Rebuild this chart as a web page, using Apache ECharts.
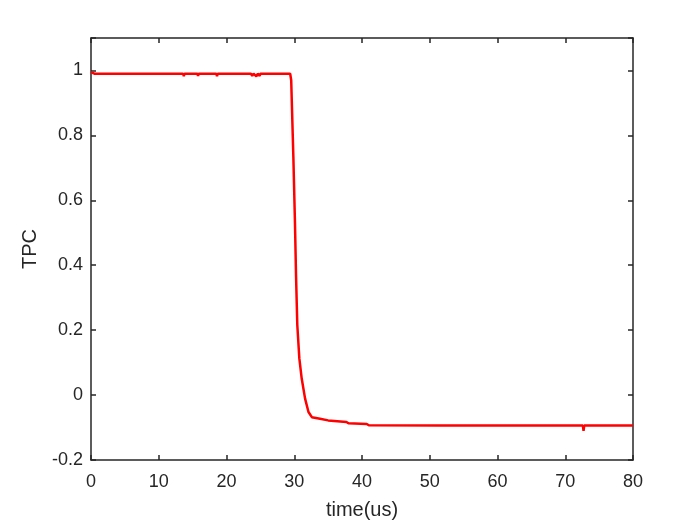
<!DOCTYPE html>
<html>
<head>
<meta charset="utf-8">
<script src="https://cdn.jsdelivr.net/npm/echarts@6/dist/echarts.min.js"></script>
<style>
  html, body { margin: 0; padding: 0; background: #fff; }
  #main { width: 700px; height: 525px; }
</style>
</head>
<body>
<div id="main"></div>
<script>
// time axis (us) and the TPC trace
var timeUs = [0, 0.5, 13.6, 13.7, 13.8, 15.7, 15.8, 15.9, 18.5, 18.6, 18.7,
    23.6, 23.8, 24.0, 24.4, 24.6, 24.9, 25.0, 29.4, 29.55, 29.87, 30.11,
    30.26, 30.45, 30.75, 31.1, 31.6, 32.1, 32.6, 33.8, 35, 37.7, 38.0,
    40.7, 41.0, 51.6, 51.7, 51.8, 70.4, 70.5, 70.6, 72.6, 72.7, 72.8, 80];
var tpc = [0.995, 0.99, 0.99, 0.982, 0.99, 0.99, 0.983, 0.99, 0.99, 0.982, 0.99,
    0.99, 0.983, 0.99, 0.982, 0.99, 0.983, 0.99, 0.99, 0.97, 0.733, 0.526,
    0.371, 0.216, 0.113, 0.051, -0.011, -0.052, -0.068, -0.073, -0.078, -0.083, -0.087,
    -0.089, -0.093, -0.094, -0.088, -0.094, -0.094, -0.089, -0.094, -0.094, -0.110, -0.094, -0.094];
var xTicks = [0, 10, 20, 30, 40, 50, 60, 70, 80];
var yTicks = [-0.2, 0, 0.2, 0.4, 0.6, 0.8, 1];

var chart = echarts.init(document.getElementById('main'));

var axisColor = '#262626';
var font = 'Liberation Sans, Arial, sans-serif';

function yLabel(v) {
    var r = Math.round(v * 10) / 10;
    return yTicks.indexOf(r) >= 0 ? String(r) : '';
}

var points = timeUs.map(function(t, i) { return [t, tpc[i]]; });

chart.setOption({
    animation: false,
    backgroundColor: '#fff',
    grid: { left: 91, right: 67, top: 38, bottom: 64, show: false },
    xAxis: [{
        type: 'value', min: 0, max: 80, interval: 10,
        name: 'time(us)', nameLocation: 'middle', nameGap: 40,
        nameTextStyle: { color: axisColor, fontSize: 20, fontFamily: font },
        axisLine: { show: true, onZero: false, lineStyle: { color: axisColor, width: 1.5 } },
        axisTick: { show: true, inside: true, length: 5, lineStyle: { color: axisColor, width: 1.5 } },
        axisLabel: { color: axisColor, fontSize: 18, fontFamily: font, margin: 13 },
        splitLine: { show: false }
    }, {
        type: 'value', position: 'top', min: 0, max: 80, interval: 10,
        axisLine: { show: true, onZero: false, lineStyle: { color: axisColor, width: 1.5 } },
        axisTick: { show: true, inside: true, length: 5, lineStyle: { color: axisColor, width: 1.5 } },
        axisLabel: { show: false },
        splitLine: { show: false }
    }],
    yAxis: [{
        type: 'value', min: -0.2, max: 1.1, interval: 0.2,
        name: 'TPC', nameLocation: 'middle', nameGap: 51, nameRotate: 90,
        nameTextStyle: { color: axisColor, fontSize: 20, fontFamily: font },
        axisLine: { show: true, onZero: false, lineStyle: { color: axisColor, width: 1.5 } },
        axisTick: { show: true, inside: true, length: 5, lineStyle: { color: axisColor, width: 1.5 } },
        axisLabel: { color: axisColor, fontSize: 18, fontFamily: font, margin: 8, formatter: yLabel },
        splitLine: { show: false }
    }, {
        type: 'value', position: 'right', min: -0.2, max: 1.1, interval: 0.2,
        axisLine: { show: true, onZero: false, lineStyle: { color: axisColor, width: 1.5 } },
        axisTick: { show: true, inside: true, length: 5, lineStyle: { color: axisColor, width: 1.5 } },
        axisLabel: { show: false },
        splitLine: { show: false }
    }],
    series: [{
        type: 'line',
        data: points,
        showSymbol: false,
        lineStyle: { color: '#ff0000', width: 2.5 },
        itemStyle: { color: '#ff0000' }
    }]
});
</script>
</body>
</html>
